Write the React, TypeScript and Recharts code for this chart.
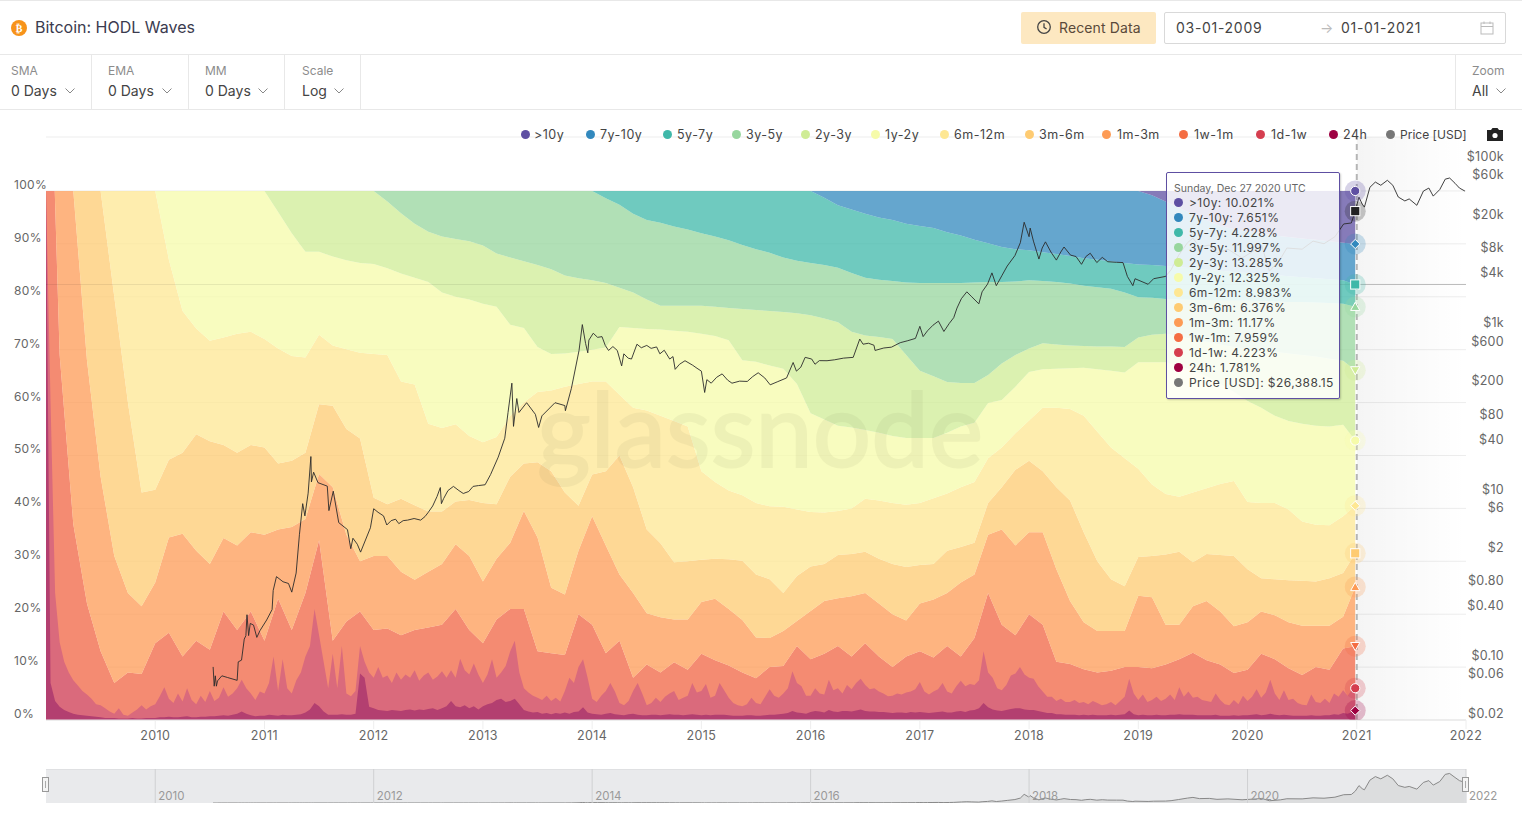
import React from "react";
import { ComposedChart, Area, Line, XAxis, YAxis, CartesianGrid, Tooltip, ReferenceLine, ReferenceArea } from "recharts";

const FONT = "Inter, 'Noto Sans', sans-serif";
const ACTIVE_DATE = 2020.986;

const yearTicks = [2010, 2011, 2012, 2013, 2014, 2015, 2016, 2017, 2018, 2019, 2020, 2021, 2022];
const navYears = [2010, 2012, 2014, 2016, 2018, 2020, 2022];
const pctTicks = [0, 10, 20, 30, 40, 50, 60, 70, 80, 90, 100, 110.2];
const priceTicks = [0.02, 0.06, 0.1, 0.4, 0.8, 2, 6, 10, 40, 80, 200, 600, 1000, 4000, 8000, 20000, 60000, 100000];

const dates = [
  2009, 2009.02, 2009.04, 2009.08, 2009.125, 2009.25, 2009.375, 2009.5, 2009.625, 2009.75, 2009.875,
  2010, 2010.125, 2010.25, 2010.375, 2010.5, 2010.625, 2010.75, 2010.875,
  2011, 2011.125, 2011.25, 2011.375, 2011.5, 2011.625, 2011.75, 2011.875,
  2012, 2012.125, 2012.25, 2012.375, 2012.5, 2012.625, 2012.75, 2012.875,
  2013, 2013.125, 2013.25, 2013.375, 2013.5, 2013.625, 2013.75, 2013.875,
  2014, 2014.125, 2014.25, 2014.375, 2014.5, 2014.625, 2014.75, 2014.875,
  2015, 2015.125, 2015.25, 2015.375, 2015.5, 2015.625, 2015.75, 2015.875,
  2016, 2016.125, 2016.25, 2016.375, 2016.5, 2016.625, 2016.75, 2016.875,
  2017, 2017.125, 2017.25, 2017.375, 2017.5, 2017.625, 2017.75, 2017.875,
  2018, 2018.125, 2018.25, 2018.375, 2018.5, 2018.625, 2018.75, 2018.875,
  2019, 2019.125, 2019.25, 2019.375, 2019.5, 2019.625, 2019.75, 2019.875,
  2020, 2020.125, 2020.25, 2020.375, 2020.5, 2020.625, 2020.75, 2020.875, ACTIVE_DATE,
];

// the two bottom bands are jagged, so they have their own half-month dates
const fineDates = [...Array.from({ length: 288 }, (_, i) => 2009 + i / 24), ACTIVE_DATE];
const top24h = [
  100, 7, 3.6, 2.5, 1.9, 1.5, 1.2, 1, 0.9, 0.8, 0.7, 0.6, 0.5, 0.4, 0.4, 0.4, 0.3, 0.3, 0.3, 0.4, 0.3, 0.3, 0.4, 0.4,
  0.4, 0.5, 0.5, 0.6, 0.5, 0.5, 0.6, 0.7, 0.5, 0.5, 0.6, 0.6, 0.7, 0.7, 0.8, 0.9, 0.8, 1, 1.2, 1.6, 1.2, 0.9, 0.7, 0.8,
  0.8, 1, 0.9, 0.8, 1, 0.9, 0.9, 1, 1.1, 1.4, 2, 3.2, 2.6, 1.6, 1, 1, 1, 1.1, 1, 1, 1.2, 8.8, 8, 2.5,
  2.2, 1.9, 1.8, 1.7, 1.9, 1.8, 1.7, 1.9, 2, 1.8, 2, 1.9, 2.1, 2.2, 1.9, 2.2, 2.6, 3.6, 2.6, 2.4, 2.8, 2.2, 2.6, 2,
  2.6, 3, 3.2, 3.8, 4, 3.4, 3.6, 4, 3, 1.9, 1.6, 1.4, 1.5, 1.2, 1.3, 1.1, 1.3, 1.2, 1.4, 1.2, 1.5, 1.6, 2.4, 1.4,
  1.2, 1.1, 1, 1.2, 1.3, 1.1, 1, 0.9, 1.1, 1.2, 1, 0.9, 0.9, 1, 1, 0.9, 1, 1.1, 1, 1, 0.9, 1, 1.1, 1,
  0.9, 1, 0.9, 1, 1, 1, 0.9, 0.8, 0.8, 0.8, 0.9, 0.9, 0.8, 0.8, 0.9, 1, 1, 1.1, 1.2, 1.3, 1.7, 1.4, 1.3, 1.2,
  1.5, 1.7, 1.6, 1.4, 1.9, 1.6, 1.5, 1.7, 1.7, 1.6, 1.8, 2, 1.7, 1.6, 1.6, 1.5, 1.5, 1.4, 1.3, 1.4, 1.4, 1.3, 1.5, 1.4,
  1.5, 1.4, 1.3, 1.4, 1.5, 1.6, 1.4, 1.4, 1.6, 1.7, 1.5, 1.8, 1.9, 2.2, 3.2, 2.4, 2, 1.8, 1.7, 1.9, 2.1, 2.2, 2.2, 2,
  1.9, 1.9, 1.7, 1.5, 1.3, 1.3, 1.1, 1.1, 1, 1, 1, 0.9, 1, 0.9, 1, 0.9, 0.9, 0.9, 1, 0.9, 1, 1.1, 1.8, 1.1,
  0.9, 1, 0.9, 0.9, 1, 0.9, 0.9, 1, 1, 1.1, 1, 1, 1, 0.9, 0.9, 0.9, 0.9, 1, 0.8, 0.8, 0.8, 0.9, 0.8, 0.9,
  0.9, 1, 1.1, 0.9, 1, 1.2, 1, 0.9, 1, 0.9, 0.8, 0.8, 0.8, 0.8, 0.9, 0.8, 0.8, 0.9, 0.9, 1.1, 1, 1.3, 1.2, 1.5, 1.781,
];
const top1d1w = [
  100, 60, 24, 14.7, 11, 9, 7.5, 6.5, 5.5, 4.8, 4, 3, 2.8, 2.2, 1.6, 1.2, 2.2, 1, 0.8, 1.4, 2, 2.8, 2, 2.6,
  3, 4.5, 6.2, 4, 3.2, 5, 3.5, 6, 3.8, 3, 4.6, 3.4, 5.5, 3.6, 4.2, 6.2, 4.4, 5, 6, 7.6, 6, 5, 3.8, 5.4,
  5, 7, 12, 5.5, 11.5, 6, 5, 7.5, 9, 12, 14, 21, 16, 11, 6, 12.5, 6, 14, 5, 4.5, 5.5, 14, 11, 9,
  8, 10, 8, 8.4, 7, 9, 7.6, 8.6, 8, 9.4, 7.4, 8.4, 9, 7.6, 8.2, 9.2, 8, 9.4, 8, 11.6, 9.4, 8.6, 10.7, 8.6,
  7, 8.6, 11.5, 8, 9, 10.2, 13, 15, 9, 6, 5.2, 4.6, 4.2, 3.8, 4.6, 3.6, 4.2, 3.5, 5.5, 8, 7, 10, 11.5, 8,
  4, 3.4, 4.6, 5.5, 7, 5.4, 3.2, 2.8, 3.6, 5.5, 7, 5, 2.8, 3.2, 4.2, 3.4, 4.4, 5, 5.5, 3.8, 4.2, 4.6, 7, 5.2,
  5.5, 6.8, 4.2, 4.6, 7, 5.6, 4.2, 3.2, 2.8, 2.6, 3, 4.2, 3.2, 3, 4.4, 5.8, 4.6, 4.2, 5, 6, 9.2, 7, 6.4, 4.6,
  4.6, 6, 5, 4.8, 7.6, 5.6, 6, 5, 6.6, 5.8, 7, 7.8, 6.6, 5.8, 6, 5.4, 5, 4.5, 4.6, 5, 4.8, 5.2, 5.4, 5.8,
  7.2, 5.4, 4.8, 5.4, 5.8, 7, 5.4, 5, 6.4, 7.4, 6.4, 6.8, 6.6, 7.5, 13, 9, 8, 6, 5.6, 6.6, 8.4, 8.8, 10, 8.6,
  8, 7.8, 6.4, 5.4, 4.4, 4.4, 3.6, 4, 3.4, 3.4, 3.8, 3.2, 3.4, 3, 3.6, 3.2, 2.8, 3, 3.4, 2.8, 3.6, 4.4, 7.8, 5,
  3.8, 4.8, 3.4, 3.8, 4.4, 3.6, 4, 4.8, 3.8, 6.2, 4.4, 5.4, 4.2, 4.4, 3.8, 3.6, 3.4, 5, 3.8, 3, 2.8, 3.8, 3, 4.6,
  3.6, 4.4, 5.8, 4.2, 5.2, 7.6, 5, 3.8, 5.6, 3.8, 4, 3.2, 2.9, 2.8, 4.8, 3.4, 3.2, 4, 3.2, 5, 4.4, 5.6, 4.6, 5.8, 6.004,
];

// upper edge of each band above them
const top1w1m = [100, 100, 100, 100, 69, 37, 22, 13, 7, 9, 8.7, 14.5, 16.5, 12, 15, 13.3, 20.5, 17, 20.5, 15, 22.9, 17, 24, 34, 15, 18.6, 20.5, 17, 17.3, 16, 17, 17.5, 18, 21, 17, 14.5, 19, 21, 21, 13, 12.6, 12.3, 20, 18, 12.6, 15, 8, 10.5, 9, 10.9, 9.5, 12.5, 11.3, 10.3, 9, 7.9, 10, 10.2, 14, 11.5, 12.5, 14, 12, 14.5, 12, 10, 12, 13, 11.8, 14, 12, 15.5, 24, 18, 16, 20, 18, 11, 10.6, 9.6, 9, 9.3, 10, 10, 9.8, 10.5, 11.5, 12.7, 11.3, 10.5, 8.9, 9.5, 12.5, 11.5, 9.8, 8.5, 10, 9.5, 13.5, 13.963];
const top1m3m = [100, 100, 100, 100, 100, 100, 68, 46, 31, 24, 21.5, 26, 34.5, 35.2, 32, 29.5, 34.4, 33, 35.5, 35, 36, 36.5, 38, 46.5, 44, 35, 30, 31, 31, 28, 26.5, 28, 29.5, 33.2, 31, 26.2, 30.5, 33.5, 39.5, 34.5, 25, 23.7, 32, 38.5, 33, 27.5, 24, 20.2, 19.4, 19, 19, 22.3, 22.9, 21, 18.9, 15.6, 15.5, 16.8, 18.7, 20.6, 22.5, 23, 23.4, 24, 22, 20, 18.8, 22, 22.8, 24, 26, 27.5, 35, 36, 33, 35.5, 35.5, 28.5, 22.5, 18.5, 16.8, 16.8, 16.8, 23.5, 23.2, 18, 18, 21.5, 22.5, 20.5, 17.7, 18.5, 20.5, 19.8, 18.5, 17.8, 17.8, 17.8, 19.5, 25.133];
const top3m6m = [100, 100, 100, 100, 100, 100, 100, 100, 80, 60, 43, 43.5, 49.2, 50.5, 54, 52.7, 52, 50.5, 52, 51.5, 48.5, 49, 50.5, 59.7, 59.4, 55, 53.2, 42, 40.8, 41.8, 40.6, 39.4, 39.4, 41.3, 41.6, 41, 40.8, 46, 48.5, 48.7, 47, 43, 40.5, 46.4, 47, 50, 44, 36, 33.4, 29.8, 30, 30.3, 30.5, 30.4, 30.1, 27.5, 26.6, 24, 27.2, 29, 29.5, 31.2, 31.4, 31.8, 30.5, 29.5, 28.9, 29.3, 29.5, 32, 32.7, 33.5, 41, 44, 47.3, 49, 47, 44, 41.5, 35.5, 30, 26.6, 25.3, 30.8, 31, 31.3, 31.8, 29.8, 31.4, 31.2, 31, 28.5, 26.8, 26.6, 26.4, 26.3, 26.2, 26.8, 27.8, 31.509];
const top6m12m = [100, 100, 100, 100, 100, 100, 100, 100, 100, 100, 100, 100, 87, 77.3, 74, 71.7, 72.3, 73, 73.4, 72, 70.2, 68.8, 68.5, 72.8, 70.8, 70.1, 69.4, 69.2, 69, 64, 63.4, 56, 55.2, 55.9, 53.7, 52.5, 53.5, 57.5, 60, 62, 62.3, 63, 63.5, 64, 64, 61.5, 59, 58.5, 57.5, 56.5, 55.5, 47, 45, 43.4, 42.5, 41, 40.4, 40.3, 39.8, 39.3, 39.2, 39.5, 40, 41.8, 41.5, 41, 40.7, 41, 41.9, 42.8, 44, 45, 49.5, 51.5, 54.2, 56.6, 59, 59, 58.8, 57.5, 54.5, 51.5, 49.5, 47.5, 44.5, 42.7, 42.2, 43, 43.8, 44.6, 45.2, 41.2, 41, 41, 39.8, 37.5, 36.9, 36.8, 38.5, 40.492];
const top1y2y = [100, 100, 100, 100, 100, 100, 100, 100, 100, 100, 100, 100, 100, 100, 100, 100, 100, 100, 100, 100, 96, 92, 88.5, 88.5, 87.6, 86.9, 86.4, 86.2, 85.4, 84.4, 83.6, 82.8, 80.8, 80, 79.5, 78.7, 78.1, 74.7, 74.1, 70.5, 69.2, 69.3, 69.6, 70, 70.4, 74.3, 74.1, 73.9, 73.8, 73.6, 73.4, 73, 72.6, 71.8, 68, 67.7, 67, 66.4, 63.5, 58, 56.8, 55.6, 55.3, 54.8, 54.3, 53.7, 53.3, 53.3, 53.3, 54.3, 55.5, 56.2, 59.9, 60.5, 63, 65.8, 66.3, 66.4, 66.5, 66.6, 66.3, 66, 65.7, 67.6, 67.6, 67.6, 67, 66, 65, 63.5, 62, 60.3, 59, 57.5, 56.5, 56, 55.6, 55.5, 55.8, 52.817];
const top2y3y = [100, 100, 100, 100, 100, 100, 100, 100, 100, 100, 100, 100, 100, 100, 100, 100, 100, 100, 100, 100, 100, 100, 100, 100, 100, 100, 100, 100, 98, 95.8, 93.8, 92.3, 91.4, 90.9, 90.5, 89.7, 88.2, 87.4, 86.7, 86, 85.2, 84, 83.5, 83.1, 82.6, 81.7, 80.8, 79.5, 78.3, 78.3, 78.3, 78.3, 78.1, 77.9, 77.7, 77.5, 77.3, 77.1, 76.9, 76.5, 75.9, 75.2, 73.4, 72.7, 72.4, 72, 69, 66, 65, 63.9, 63.7, 63.7, 65.2, 67.4, 69, 70.2, 71.2, 71, 70.8, 70.7, 70.6, 70.6, 70.5, 72.3, 72.8, 73, 72.5, 72, 71.5, 71, 70.5, 70, 70, 69.6, 69.3, 69, 68.7, 68.3, 67.9, 66.102];
const top3y5y = [100, 100, 100, 100, 100, 100, 100, 100, 100, 100, 100, 100, 100, 100, 100, 100, 100, 100, 100, 100, 100, 100, 100, 100, 100, 100, 100, 100, 100, 100, 100, 100, 100, 100, 100, 100, 100, 100, 100, 100, 100, 100, 100, 100, 98.6, 97.4, 95.7, 94.5, 94, 93.3, 92.7, 92, 91.4, 90.7, 89.8, 89, 88.3, 87.4, 86.8, 86.4, 86, 85.5, 84.5, 83.6, 83.2, 83, 82.7, 82.6, 82.6, 82.6, 82.6, 82.7, 82.8, 82.8, 82.9, 83.1, 83, 82.8, 82.5, 82.1, 81.8, 81.5, 80.8, 79.9, 79.8, 79.6, 79.5, 79.4, 79.4, 79.3, 79.3, 79.3, 79.2, 79.1, 79, 79, 78.9, 78.8, 78.7, 78.099];
const top5y7y = [100, 100, 100, 100, 100, 100, 100, 100, 100, 100, 100, 100, 100, 100, 100, 100, 100, 100, 100, 100, 100, 100, 100, 100, 100, 100, 100, 100, 100, 100, 100, 100, 100, 100, 100, 100, 100, 100, 100, 100, 100, 100, 100, 100, 100, 100, 100, 100, 100, 100, 100, 100, 100, 100, 100, 100, 100, 100, 100, 100, 98.7, 97.3, 96.5, 95.7, 95, 94.5, 93.8, 93.4, 93, 92.2, 91.6, 90.8, 90.1, 89.4, 89, 88.8, 88.4, 88.1, 87.7, 87.3, 87, 86.7, 86.4, 86.1, 86, 85.8, 85.6, 85.4, 85.1, 84.9, 84.7, 84.5, 84.3, 84.1, 83.9, 83.7, 83.5, 83.3, 83.1, 82.327];
const top7y10y = [100, 100, 100, 100, 100, 100, 100, 100, 100, 100, 100, 100, 100, 100, 100, 100, 100, 100, 100, 100, 100, 100, 100, 100, 100, 100, 100, 100, 100, 100, 100, 100, 100, 100, 100, 100, 100, 100, 100, 100, 100, 100, 100, 100, 100, 100, 100, 100, 100, 100, 100, 100, 100, 100, 100, 100, 100, 100, 100, 100, 100, 100, 100, 100, 100, 100, 100, 100, 100, 100, 100, 100, 100, 100, 100, 100, 100, 100, 100, 100, 100, 100, 100, 100, 99.2, 98, 96.8, 95.6, 94.5, 93.4, 92.8, 92.4, 92, 91.6, 91.3, 91, 90.8, 90.5, 90.2, 89.978];
// the tooltip's rounded shares add up to 99.999
const topAll = dates.map((t) => (t === ACTIVE_DATE ? 99.999 : 100));

const priceDates = [
  2010.53, 2010.54, 2010.55, 2010.56, 2010.57, 2010.61, 2010.66, 2010.75, 2010.76, 2010.79, 2010.815, 2010.83, 2010.84, 2010.855, 2010.87, 2010.9, 2010.93, 2010.96,
  2011.02, 2011.07, 2011.08, 2011.11, 2011.17, 2011.22, 2011.25, 2011.29, 2011.32, 2011.35, 2011.37, 2011.4, 2011.425, 2011.43, 2011.45, 2011.49, 2011.575, 2011.59, 2011.63, 2011.68, 2011.76, 2011.79, 2011.81, 2011.85, 2011.88, 2011.97,
  2012.0, 2012.04, 2012.09, 2012.12, 2012.16, 2012.2, 2012.23, 2012.27, 2012.31, 2012.37, 2012.43, 2012.47, 2012.5, 2012.54, 2012.58, 2012.61, 2012.62, 2012.64, 2012.68, 2012.73, 2012.78, 2012.82, 2012.87, 2012.91, 2012.96,
  2013.02, 2013.07, 2013.14, 2013.2, 2013.23, 2013.265, 2013.28, 2013.31, 2013.33, 2013.4, 2013.48, 2013.51, 2013.54, 2013.66, 2013.75, 2013.755, 2013.81, 2013.88, 2013.91, 2013.94, 2013.96, 2013.97,
  2014.01, 2014.05, 2014.09, 2014.12, 2014.15, 2014.19, 2014.23, 2014.27, 2014.29, 2014.33, 2014.36, 2014.41, 2014.45, 2014.5, 2014.54, 2014.59, 2014.62, 2014.66, 2014.71, 2014.74, 2014.76, 2014.8, 2014.85, 2014.92, 2014.96,
  2015.0, 2015.03, 2015.05, 2015.09, 2015.14, 2015.19, 2015.24, 2015.28, 2015.35, 2015.42, 2015.47, 2015.52, 2015.58, 2015.63, 2015.7, 2015.78, 2015.84, 2015.87, 2015.91, 2015.95,
  2016.01, 2016.04, 2016.08, 2016.15, 2016.22, 2016.3, 2016.39, 2016.45, 2016.48, 2016.53, 2016.58, 2016.59, 2016.67, 2016.74, 2016.82, 2016.89, 2016.96,
  2017.0, 2017.03, 2017.07, 2017.12, 2017.17, 2017.22, 2017.27, 2017.31, 2017.34, 2017.38, 2017.43, 2017.47, 2017.54, 2017.57, 2017.62, 2017.66, 2017.7, 2017.75, 2017.8, 2017.87, 2017.92, 2017.955,
  2018.0, 2018.01, 2018.04, 2018.09, 2018.12, 2018.15, 2018.2, 2018.25, 2018.29, 2018.32, 2018.38, 2018.43, 2018.48, 2018.52, 2018.56, 2018.62, 2018.67, 2018.72, 2018.8, 2018.86, 2018.9, 2018.95, 2018.97,
  2019.09, 2019.14, 2019.25, 2019.3, 2019.37, 2019.45, 2019.5, 2019.56, 2019.65, 2019.72, 2019.82, 2019.95,
  2020.07, 2020.13, 2020.2, 2020.3, 2020.36, 2020.5, 2020.6, 2020.7, 2020.8, 2020.88, 2020.95, ACTIVE_DATE,
  2021.02, 2021.05, 2021.07, 2021.12, 2021.17, 2021.22, 2021.28, 2021.33, 2021.38, 2021.44, 2021.48, 2021.55, 2021.61, 2021.66, 2021.7, 2021.76, 2021.81, 2021.85, 2021.9, 2021.94, 2021.99,
];
const priceValues = [
  0.087, 0.051, 0.068, 0.051, 0.059, 0.068, 0.065, 0.06, 0.1, 0.105, 0.188, 0.207, 0.369, 0.207, 0.29, 0.277, 0.197, 0.239,
  0.319, 0.426, 0.723, 1.06, 0.92, 0.877, 0.69, 1.17, 3.38, 8, 5.7, 10.7, 29.5, 14.6, 19.1, 14.3, 13, 6.6, 11.3, 4.73, 3.9, 2.3, 3.07, 2.6, 2.09, 4.1,
  6.95, 6.3, 5.7, 4.43, 5, 5.2, 4.6, 5, 5.07, 5.3, 5.07, 5.6, 6.3, 7.5, 9.75, 12.5, 8, 9.2, 11.5, 12.9, 11.5, 10.6, 11.2, 12.9, 13.2,
  13.5, 17.9, 29, 49, 100, 225, 68, 147, 100, 131, 95, 66, 91, 131, 121, 105, 195, 557, 1140, 675, 521, 742,
  897, 800, 817, 640, 557, 620, 557, 363, 507, 450, 439, 662, 600, 640, 590, 614, 507, 560, 439, 470, 330, 380, 419, 370, 340,
  314, 174, 248, 225, 265, 291, 245, 225, 238, 236, 270, 300, 260, 215, 235, 260, 399, 314, 350, 460,
  439, 380, 420, 419, 430, 450, 460, 764, 662, 680, 643, 557, 596, 610, 690, 730, 778,
  1086, 817, 960, 1120, 1254, 942, 1180, 1380, 1800, 2334, 2825, 2500, 2024, 2825, 3500, 4775, 3350, 4400, 5770, 7690, 11000, 19400,
  13000, 16500, 11500, 7000, 9500, 11270, 8500, 6800, 8500, 9770, 7800, 7500, 6050, 7500, 8220, 6350, 7330, 6500, 6400, 6350, 4330, 3350, 4060,
  3480, 4060, 4330, 5200, 7800, 11000, 12500, 9800, 10300, 8200, 9200, 7200,
  9000, 10200, 5000, 7000, 9500, 9200, 11500, 10700, 13000, 18500, 19000, 26388.15,
  38900, 32000, 29500, 51000, 59000, 54000, 62000, 54000, 39000, 35000, 37000, 31000, 46000, 50000, 40000, 48000, 64000, 66000, 57000, 50000, 46000,
];

// bottom to top of the stack
const bands = [
  { key: "h24", name: "24h", color: "#9e0142", fill: "#b33f70", tops: top24h, below: null, mark: "diamond", dotLeft: 1329, textLeft: 1343 },
  { key: "d1w", name: "1d-1w", color: "#d53e4f", fill: "#da6a7c", tops: top1d1w, below: top24h, mark: "circle", dotLeft: 1256, textLeft: 1271 },
  { key: "w1m", name: "1w-1m", color: "#f46d43", fill: "#f48b72", tops: top1w1m, below: top1d1w, mark: "down", dotLeft: 1179, textLeft: 1194 },
  { key: "m3m", name: "1m-3m", color: "#fd9b55", fill: "#fd9b55", tops: top1m3m, below: top1w1m, mark: "up", dotLeft: 1102, textLeft: 1117 },
  { key: "m6m", name: "3m-6m", color: "#fecb72", fill: "#fecb72", tops: top3m6m, below: top1m3m, mark: "square", dotLeft: 1025, textLeft: 1039 },
  { key: "m12m", name: "6m-12m", color: "#fee793", fill: "#fee793", tops: top6m12m, below: top3m6m, mark: "diamond", dotLeft: 940, textLeft: 954 },
  { key: "y2y", name: "1y-2y", color: "#f6fbaa", fill: "#f6fbaa", tops: top1y2y, below: top6m12m, mark: "circle", dotLeft: 871, textLeft: 885 },
  { key: "y3y", name: "2y-3y", color: "#cfec95", fill: "#cfec95", tops: top2y3y, below: top1y2y, mark: "down", dotLeft: 801, textLeft: 815 },
  { key: "y5y", name: "3y-5y", color: "#97d69e", fill: "#97d69e", tops: top3y5y, below: top2y3y, mark: "up", dotLeft: 732, textLeft: 746 },
  { key: "y7y", name: "5y-7y", color: "#3fb8a9", fill: "#3fb8a9", tops: top5y7y, below: top3y5y, mark: "square", dotLeft: 663, textLeft: 677 },
  { key: "y10y", name: "7y-10y", color: "#3288bd", fill: "#3288bd", tops: top7y10y, below: top5y7y, mark: "diamond", dotLeft: 586, textLeft: 600 },
  { key: "o10y", name: ">10y", color: "#5e4fa2", fill: "#5e4fa2", tops: topAll, below: top7y10y, mark: "circle", dotLeft: 521, textLeft: 534 },
];
const topDown = [...bands].reverse();
const coarseBands = bands.slice(2);
const [band24h, band1d1w] = bands;

// 1w-1m stands on the axis, the two fine bands are painted over its foot
const rows = dates.map((t, i) => {
  const row: any = { t };
  coarseBands.forEach((b) => {
    row[b.key] = b.key === "w1m" ? b.tops[i] : b.tops[i] - b.below![i];
  });
  return row;
});
const fineRows = fineDates.map((t, i) => ({ t, h24: top24h[i], d1w: top1d1w[i] }));
const priceRows = priceDates.map((t, i) => ({ t, price: priceValues[i] }));

function share(b: any) {
  const top = b.tops[b.tops.length - 1];
  const low = b.below ? b.below[b.below.length - 1] : 0;
  return parseFloat((top - low).toFixed(3));
}

function Marker({ cx, cy, kind, color }: any) {
  const s = 4.6;
  const shape =
    kind === "circle" ? <circle cx={cx} cy={cy} r={s} /> :
    kind === "square" ? <rect x={cx - s} y={cy - s} width={s * 2} height={s * 2} /> :
    kind === "diamond" ? <path d={`M${cx} ${cy - s}L${cx + s} ${cy}L${cx} ${cy + s}L${cx - s} ${cy}Z`} /> :
    kind === "up" ? <path d={`M${cx} ${cy - s}L${cx + s} ${cy + s - 1}L${cx - s} ${cy + s - 1}Z`} /> :
    <path d={`M${cx - s} ${cy - s + 1}L${cx + s} ${cy - s + 1}L${cx} ${cy + s}Z`} />;
  return (
    <g>
      <circle cx={cx} cy={cy} r={10.5} fill={color} fillOpacity={0.25} />
      <g fill={color} stroke="#fff" strokeWidth={1}>{shape}</g>
    </g>
  );
}

const endDot = (kind: string, color: string) => (p: any) =>
  p.payload.t === ACTIVE_DATE ? <g key={p.index}><Marker cx={p.cx} cy={p.cy} kind={kind} color={color} /></g> : <g key={p.index} />;

function LeftTick({ y, payload }: any) {
  if (payload.value > 100) return <g />;
  return (
    <text x={14} y={y - 6} dy={4} fontSize={12} fontFamily={FONT} fill="#666" letterSpacing={0.3}>
      {payload.value}%
    </text>
  );
}

function fmtPrice(v: number) {
  if (v >= 1000) return `$${v / 1000}k`;
  if (v >= 1) return `$${v}`;
  return `$${v.toFixed(2)}`;
}

function RightTick({ y, payload }: any) {
  return (
    <text x={1504} y={y - 6} dy={4} textAnchor="end" fontSize={12.5} fontFamily={FONT} fill="#666" letterSpacing={0.3}>
      {fmtPrice(payload.value)}
    </text>
  );
}

function TipBox() {
  return (
    <div style={{ width: 174, height: 227, boxSizing: "border-box", padding: "9px 7px", background: "rgba(255,255,255,0.84)", border: "1.5px solid #5e4fa2", borderRadius: 2, fontFamily: FONT, boxShadow: "1px 1px 2px rgba(0,0,0,0.2)" }}>
      <div style={{ fontSize: 10.5, color: "#666", lineHeight: "13px" }}>Sunday, Dec 27 2020 UTC</div>
      {topDown.map((b) => (
        <TipRow key={b.key} color={b.color} label={b.name} value={`${share(b)}%`} />
      ))}
      <TipRow color="#777" label="Price [USD]" value="$26,388.15" />
    </div>
  );
}

function TipRow({ color, label, value }: any) {
  return (
    <div style={{ display: "flex", alignItems: "center", height: 15, fontSize: 12, color: "#444", letterSpacing: 0.42, whiteSpace: "nowrap" }}>
      <span style={{ width: 9, height: 9, borderRadius: 5, background: color, marginRight: 6, flex: "none" }} />
      {label}: {value}
    </div>
  );
}

function Chevron({ left, top }: any) {
  return (
    <svg width={10} height={6} style={{ position: "absolute", left, top }} viewBox="0 0 10 6">
      <path d="M0.5 0.5L5 5L9.5 0.5" fill="none" stroke="#888" strokeWidth={1} />
    </svg>
  );
}

function Txt({ left, top, size = 14, color = "#444", spacing = 0, children }: any) {
  return <div style={{ position: "absolute", left, top, fontSize: size, color, letterSpacing: spacing, lineHeight: "18px", whiteSpace: "nowrap" }}>{children}</div>;
}

const filters = [
  { label: "SMA", value: "0 Days", left: 11, chevron: 65, sep: 91 },
  { label: "EMA", value: "0 Days", left: 108, chevron: 162, sep: 188 },
  { label: "MM", value: "0 Days", left: 205, chevron: 258, sep: 284 },
  { label: "Scale", value: "Log", left: 302, chevron: 334, sep: 360 },
];

function Header() {
  return (
    <>
      <div style={{ position: "absolute", left: 0, top: 0, width: 1522, height: 1, background: "#e8e8e8" }} />
      <svg width={18} height={18} style={{ position: "absolute", left: 10, top: 19 }} viewBox="0 0 18 18">
        <circle cx={9} cy={9} r={8} fill="#f7931a" />
        <text x={9} y={12.5} textAnchor="middle" fontSize={10} fontWeight={700} fill="#fff" fontFamily="'DejaVu Sans'">₿</text>
      </svg>
      <Txt left={35} top={18} size={16} color="#3b3b4f">Bitcoin: HODL Waves</Txt>
      <div style={{ position: "absolute", left: 1021, top: 12, width: 135, height: 32, background: "#fde8c1", borderRadius: 2 }} />
      <svg width={16} height={16} style={{ position: "absolute", left: 1036, top: 19 }} viewBox="0 0 16 16">
        <circle cx={8} cy={8} r={6.3} fill="none" stroke="#444" strokeWidth={1.3} />
        <path d="M8 4.2V8.3L10.6 10" fill="none" stroke="#444" strokeWidth={1.3} />
      </svg>
      <Txt left={1059} top={19} color="#5a4a3a" spacing={0.12}>Recent Data</Txt>
      <div style={{ position: "absolute", left: 1164, top: 12, width: 342, height: 32, boxSizing: "border-box", border: "1px solid #d9d9d9", borderRadius: 2 }} />
      <Txt left={1176} top={19} spacing={0.7}>03-01-2009</Txt>
      <Txt left={1320} top={19} color="#bbb">→</Txt>
      <Txt left={1341} top={19} spacing={0.7}>01-01-2021</Txt>
      <svg width={14} height={14} style={{ position: "absolute", left: 1480, top: 21 }} viewBox="0 0 14 14">
        <rect x={1} y={2} width={12} height={11} fill="none" stroke="#bbb" />
        <path d="M1 5.5H13M4 0.5V3M10 0.5V3" stroke="#bbb" fill="none" />
      </svg>
      <div style={{ position: "absolute", left: 0, top: 54, width: 1522, height: 1, background: "#e8e8e8" }} />
      <div style={{ position: "absolute", left: 0, top: 109, width: 1522, height: 1, background: "#e8e8e8" }} />
      {filters.map((f) => (
        <React.Fragment key={f.label}>
          <Txt left={f.left} top={62} size={12} color="#8c8c8c">{f.label}</Txt>
          <Txt left={f.left} top={82} color="#444">{f.value}</Txt>
          <Chevron left={f.chevron} top={88} />
          <div style={{ position: "absolute", left: f.sep, top: 55, width: 1, height: 54, background: "#e8e8e8" }} />
        </React.Fragment>
      ))}
      <div style={{ position: "absolute", left: 1455, top: 55, width: 1, height: 54, background: "#e8e8e8" }} />
      <Txt left={1472} top={62} size={12} color="#8c8c8c">Zoom</Txt>
      <Txt left={1472} top={82} color="#444">All</Txt>
      <Chevron left={1496} top={88} />
    </>
  );
}

function LegendItem({ color, name, dotLeft, textLeft, size = 12.5, spacing = 0.5 }: any) {
  return (
    <>
      <div style={{ position: "absolute", left: dotLeft, top: 130, width: 9, height: 9, borderRadius: 5, background: color }} />
      <div style={{ position: "absolute", left: textLeft, top: 126, fontSize: size, letterSpacing: spacing, lineHeight: "18px", color: "#444", whiteSpace: "nowrap" }}>{name}</div>
    </>
  );
}

function Legend() {
  return (
    <>
      {topDown.map((b) => (
        <LegendItem key={b.key} color={b.color} name={b.name} dotLeft={b.dotLeft} textLeft={b.textLeft} />
      ))}
      <LegendItem color="#777" name="Price [USD]" dotLeft={1386} textLeft={1400} size={12} spacing={0.02} />
    </>
  );
}

function Navigator() {
  return (
    <>
      <div style={{ position: "absolute", left: 46, top: 769, width: 1420, height: 34, background: "#e9eaec", borderTop: "1px solid #dfe0e2", boxSizing: "border-box" }} />
      <div style={{ position: "absolute", left: 46, top: 769 }}>
        <ComposedChart width={1460} height={34} data={priceRows} margin={{ top: 0, right: 40, bottom: 0, left: 0 }}>
          <XAxis xAxisId="x" dataKey="t" type="number" domain={[2009, 2022]} hide />
          <YAxis yAxisId="p" domain={[0, 76000]} hide />
          {navYears.map((y) => (
            <ReferenceLine key={y} xAxisId="x" yAxisId="p" x={y} stroke="#cfd0d2" label={{ value: String(y), position: "insideBottomLeft", offset: 3, fontSize: 11.5, fill: "#999", fontFamily: FONT }} />
          ))}
          <Area xAxisId="x" yAxisId="p" dataKey="price" type="linear" stroke="#888" strokeWidth={1} fill="#dcddde" fillOpacity={1} isAnimationActive={false} dot={false} />
        </ComposedChart>
      </div>
      {[42, 1462].map((l) => (
        <div key={l} style={{ position: "absolute", left: l, top: 777, width: 7, height: 15, boxSizing: "border-box", background: "#f4f4f4", border: "1px solid #999" }}>
          <div style={{ width: 1, height: 7, margin: "3px 0 0 2px", background: "#aaa" }} />
        </div>
      ))}
    </>
  );
}

export default function App() {
  return (
    <div style={{ position: "absolute", left: 0, top: 0, width: 1522, height: 826, overflow: "hidden", background: "#fff", fontFamily: FONT }}>
      <Header />
      <div style={{ position: "absolute", left: 0, top: 0 }}>
        <ComposedChart width={1522} height={826} data={rows} margin={{ top: 137, right: 0, bottom: 76, left: 0 }}>
          <defs>
            <linearGradient id="futureShade" x1="0" y1="0" x2="1" y2="0">
              <stop offset="0%" stopColor="#000" stopOpacity={0.04} />
              <stop offset="100%" stopColor="#000" stopOpacity={0} />
            </linearGradient>
          </defs>
          <XAxis
            xAxisId="x"
            dataKey="t"
            type="number"
            domain={[2009, 2022]}
            ticks={yearTicks}
            interval={0}
            height={30}
            tick={{ fontSize: 12.5, fill: "#666", fontFamily: FONT, letterSpacing: 0.4 }}
            tickLine={{ stroke: "#eee" }}
            tickSize={9}
            tickMargin={2}
            axisLine={{ stroke: "#e4e4e4" }}
            allowDataOverflow
          />
          <YAxis yAxisId="pct" type="number" domain={[0, 110.2]} ticks={pctTicks} interval={0} width={46} axisLine={false} tickLine={false} tick={<LeftTick />} allowDataOverflow />
          <YAxis yAxisId="usd" orientation="right" type="number" scale="log" domain={[0.02, 205600]} ticks={priceTicks} interval={0} width={56} axisLine={false} tickLine={false} tick={<RightTick />} allowDataOverflow />
          <CartesianGrid xAxisId="x" yAxisId="pct" vertical={false} stroke="#ededed" />
          <ReferenceArea xAxisId="x" yAxisId="pct" x1={2021} x2={2022} y1={0} y2={110.2} fill="url(#futureShade)" fillOpacity={1} stroke="none" />
          {coarseBands.map((b) => (
            <Area
              key={b.key}
              xAxisId="x"
              yAxisId="pct"
              stackId="waves"
              dataKey={b.key}
              name={b.name}
              type="linear"
              stroke="none"
              fill={b.fill}
              fillOpacity={b.key === "w1m" ? 1 : 0.75}
              dot={false}
              isAnimationActive={false}
              activeDot={(p: any) => <Marker cx={p.cx} cy={p.cy} kind={b.mark} color={b.color} />}
            />
          ))}
          <Area xAxisId="x" yAxisId="pct" data={fineRows} dataKey="d1w" name="1d-1w" type="linear" stroke="none" fill={band1d1w.fill} fillOpacity={1} dot={endDot("circle", band1d1w.color)} activeDot={false} tooltipType="none" isAnimationActive={false} />
          <Area xAxisId="x" yAxisId="pct" data={fineRows} dataKey="h24" name="24h" type="linear" stroke="none" fill={band24h.fill} fillOpacity={1} dot={endDot("diamond", band24h.color)} activeDot={false} tooltipType="none" isAnimationActive={false} />
          <ReferenceLine xAxisId="x" yAxisId="pct" y={82.327} stroke="#000" strokeOpacity={0.08} />
          <ReferenceLine xAxisId="x" yAxisId="pct" segment={[{ x: 2021, y: 82.327 }, { x: 2022, y: 82.327 }]} stroke="#bbb" />
          <ReferenceLine xAxisId="x" yAxisId="pct" x={2021} stroke="#b5b5b5" strokeWidth={2} strokeDasharray="6 4" />
          <Line xAxisId="x" yAxisId="usd" data={priceRows} dataKey="price" type="linear" stroke="#2b2b2b" strokeWidth={0.9} dot={endDot("square", "#222")} activeDot={false} tooltipType="none" isAnimationActive={false} />
          <Tooltip
            defaultIndex={rows.length - 1}
            active
            position={{ x: 1166, y: 172 }}
            content={<TipBox />}
            cursor={false}
            isAnimationActive={false}
            allowEscapeViewBox={{ x: true, y: true }}
          />
        </ComposedChart>
      </div>
      <div style={{ position: "absolute", left: 537, top: 365, fontFamily: "Lato, sans-serif", fontSize: 103, lineHeight: "125px", color: "#6e6e46", WebkitTextStroke: "2px #6e6e46", opacity: 0.07, pointerEvents: "none" }}>glassnode</div>
      <Legend />
      <svg width={18} height={15} style={{ position: "absolute", left: 1486, top: 127 }} viewBox="0 0 18 15">
        <path d="M1 3H5L6.5 1H11.5L13 3H17V14H1Z" fill="#222" />
        <circle cx={9} cy={8.5} r={2.6} fill="#fff" />
      </svg>
      <Navigator />
    </div>
  );
}
